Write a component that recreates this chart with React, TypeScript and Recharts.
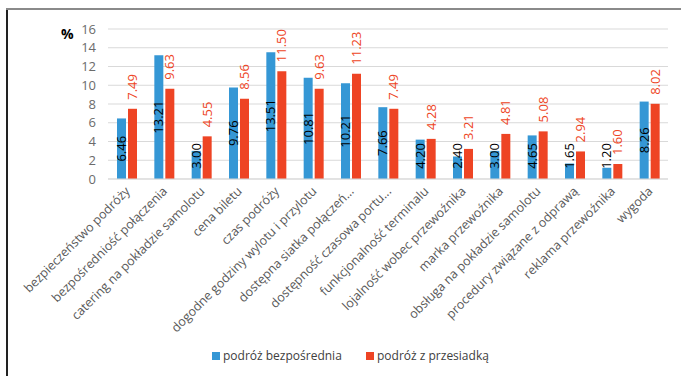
import { BarChart, Bar, XAxis, YAxis, CartesianGrid, LabelList } from "recharts";

const categories = [
    "bezpieczeństwo podróży",
    "bezpośredniość połączenia",
    "catering na pokładzie samolotu",
    "cena biletu",
    "czas podróży",
    "dogodne godziny wylotu i przylotu",
    "dostępna siatka połączeń...",
    "dostępność czasowa portu...",
    "funkcjonalność terminalu",
    "lojalność wobec przewoźnika",
    "marka przewoźnika",
    "obsługa na pokładzie samolotu",
    "procedury związane z odprawą",
    "reklama przewoźnika",
    "wygoda",
];
const direct = [6.46, 13.21, 3.0, 9.76, 13.51, 10.81, 10.21, 7.66, 4.2, 2.4, 3.0, 4.65, 1.65, 1.2, 8.26];
const transfer = [7.49, 9.63, 4.55, 8.56, 11.5, 9.63, 11.23, 7.49, 4.28, 3.21, 4.81, 5.08, 2.94, 1.6, 8.02];
const yTicks = [0, 2, 4, 6, 8, 10, 12, 14, 16];

const BLUE = "#3597d5";
const RED = "#ee4424";
const FONT = "'Open Sans', sans-serif";

const data = categories.map((name, i) => ({ name, direct: direct[i], transfer: transfer[i] }));

function CategoryTick({ x, y, payload }: any) {
    const ax = x + 4, ay = y + 5;
    return (
        <text x={ax} y={ay} transform={`rotate(-45 ${ax} ${ay})`} textAnchor="end" fontSize={12.5} fill="#595959" fontFamily={FONT}>
            {payload.value}
        </text>
    );
}

// value label centred inside the blue bar, kept clear of the axis for short bars
function InsideLabel({ x, y, width, height, value }: any) {
    const cx = x + width / 2 + 4.5;
    const cy = Math.min(y + height / 2, 156);
    return (
        <text x={cx} y={cy} transform={`rotate(-90 ${cx} ${cy})`} textAnchor="middle" fontSize={13} fill="#000" fontFamily={FONT}>
            {Number(value).toFixed(2)}
        </text>
    );
}

// value label above the red bar
function TopLabel({ x, y, width, value }: any) {
    const cx = x + width / 2 + 4.5;
    const cy = y - 9;
    return (
        <text x={cx} y={cy} transform={`rotate(-90 ${cx} ${cy})`} textAnchor="start" fontSize={13} fill={RED} fontFamily={FONT}>
            {Number(value).toFixed(2)}
        </text>
    );
}

function LegendItem({ color, label, left }: { color: string; label: string; left: number }) {
    return (
        <span style={{ position: "absolute", left, top: 0, display: "flex", alignItems: "center", whiteSpace: "nowrap" }}>
            <span style={{ width: 8, height: 8, background: color, marginRight: 3 }} />
            {label}
        </span>
    );
}

export default function App() {
    return (
        <div style={{ position: "absolute", left: 0, top: 0, width: 681, height: 376, background: "#fff", fontFamily: FONT }}>
            <div style={{ position: "absolute", left: 6, top: 9, width: 2, height: 367, background: "#222" }} />
            <div style={{ position: "absolute", left: 6, top: 8, width: 675, height: 2, background: "#8a8a8a" }} />
            <div style={{ position: "absolute", left: 61, top: 24, fontSize: 14, fontWeight: 700, color: "#000" }}>%</div>
            <BarChart width={681} height={376} data={data} margin={{ top: 29, right: 13, left: 0, bottom: 0 }} barSize={9} barGap={2}>
                <CartesianGrid vertical={false} stroke="#d9d9d9" />
                <XAxis dataKey="name" interval={0} height={197} tick={<CategoryTick />} tickLine={false} axisLine={{ stroke: "#d9d9d9" }} />
                <YAxis domain={[0, 16]} ticks={yTicks} interval={0} width={108} tickMargin={6} tick={{ fontSize: 13, fill: "#6b6b6b", fontFamily: FONT }} axisLine={false} tickLine={false} />
                <Bar dataKey="direct" name="podróż bezpośrednia" fill={BLUE} isAnimationActive={false}>
                    <LabelList dataKey="direct" content={<InsideLabel />} />
                </Bar>
                <Bar dataKey="transfer" name="podróż z przesiadką" fill={RED} isAnimationActive={false}>
                    <LabelList dataKey="transfer" content={<TopLabel />} />
                </Bar>
            </BarChart>
            <div style={{ position: "absolute", left: 0, top: 347, width: 681, height: 18, fontSize: 12, color: "#404040" }}>
                <LegendItem color={BLUE} label="podróż bezpośrednia" left={212} />
                <LegendItem color={RED} label="podróż z przesiadką" left={366} />
            </div>
        </div>
    );
}
